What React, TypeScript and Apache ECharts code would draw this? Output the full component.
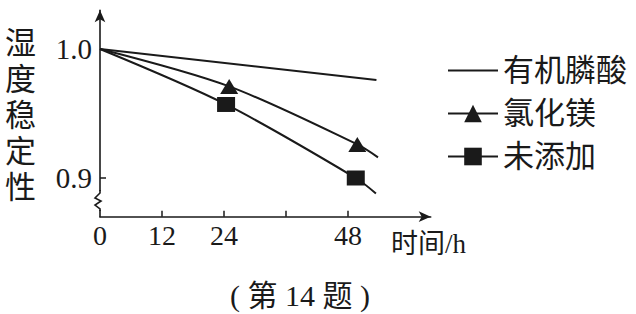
import React, { useEffect, useRef } from "react";
import * as echarts from "echarts";

// ---- data ----
const xLabelValues = [0, 12, 24, 48];
const xTickValues = [12, 24, 36, 48];
const yLabelValues = [0.9, 1.0];
const yTickValues = [0.9];

const seriesNames = ["有机膦酸", "氯化镁", "未添加"];

const phosphonicX = [0, 53.5];
const phosphonicY = [1.0, 0.976];

const mgclX = [0, 25, 49.8, 53.8];
const mgclY = [1.0, 0.971, 0.926, 0.916];
const mgclMarked = [false, true, true, false];

const noneX = [0, 24.4, 49.5, 53.4];
const noneY = [1.0, 0.957, 0.9, 0.888];
const noneMarked = [false, true, true, false];

const INK = "#1a1a1a";
const FONT = '"Liberation Serif", "Noto Sans CJK SC", serif';

function buildData(xs: number[], ys: number[], marked: boolean[], sym: string) {
  return xs.map((x, i) => ({ value: [x, ys[i]], symbol: marked[i] ? sym : "none" }));
}

export default function App() {
  const ref = useRef<HTMLDivElement>(null);
  useEffect(() => {
    if (!ref.current) return;
    const chart = echarts.init(ref.current, null, { renderer: "svg" });
    const lineStyle = { color: INK, width: 2 };
    chart.setOption({
      animation: false,
      backgroundColor: "#ffffff",
      grid: { left: 100, top: 10.3, right: 205.3, bottom: 97.3, containLabel: false, outerBoundsMode: "none" },
      xAxis: {
        type: "value",
        min: 0,
        max: 64,
        interval: 12,
        splitLine: { show: false },
        axisLine: { show: true, symbol: ["none", "arrow"], symbolSize: [8, 12], lineStyle: { color: INK, width: 1.6 } },
        axisTick: { show: true, inside: true, length: 6, customValues: xTickValues, lineStyle: { color: INK, width: 1.5 } },
        axisLabel: { customValues: xLabelValues, fontSize: 28, fontFamily: FONT, color: INK, margin: 5 },
      },
      yAxis: {
        type: "value",
        min: 0.87,
        max: 1.03,
        splitLine: { show: false },
        axisLine: { show: true, onZero: false, symbol: ["none", "arrow"], symbolSize: [8, 12], lineStyle: { color: INK, width: 1.6 } },
        axisTick: { show: true, inside: true, length: 6, customValues: yTickValues, lineStyle: { color: INK, width: 1.5 } },
        axisLabel: {
          customValues: yLabelValues,
          fontSize: 29,
          fontFamily: FONT,
          color: INK,
          margin: 8,
          formatter: (v: number) => v.toFixed(1),
        },
      },
      legend: {
        orient: "vertical",
        left: 442,
        top: 49,
        itemWidth: 50,
        itemHeight: 22,
        itemGap: 10,
        selectedMode: false,
        data: [
          { name: seriesNames[0], itemStyle: { opacity: 0 } },
          { name: seriesNames[1] },
          { name: seriesNames[2] },
        ],
        textStyle: { fontSize: 31, fontFamily: FONT, color: INK, lineHeight: 33 },
      },
      series: [
        {
          type: "line",
          name: seriesNames[0],
          data: phosphonicX.map((x, i) => [x, phosphonicY[i]]),
          symbol: "none",
          lineStyle,
          itemStyle: { color: INK },
        },
        {
          type: "line",
          name: seriesNames[1],
          data: buildData(mgclX, mgclY, mgclMarked, "triangle"),
          symbol: "triangle",
          symbolSize: [18, 15],
          smooth: 0.3,
          lineStyle,
          itemStyle: { color: INK },
        },
        {
          type: "line",
          name: seriesNames[2],
          data: buildData(noneX, noneY, noneMarked, "rect"),
          symbol: "rect",
          symbolSize: [18, 15],
          smooth: 0.3,
          lineStyle,
          itemStyle: { color: INK },
        },
      ],
      graphic: [
        {
          type: "text",
          x: 5,
          y: 25,
          z: 100,
          style: { text: "湿\n度\n稳\n定\n性", fontSize: 31, fontFamily: FONT, lineHeight: 36, fill: INK, textVerticalAlign: "top" },
        },
        {
          type: "text",
          x: 391,
          y: 244,
          z: 100,
          style: { text: "时间/h", fontSize: 27, fontFamily: FONT, fill: INK, textVerticalAlign: "middle" },
        },
        {
          type: "text",
          x: 300,
          y: 295,
          z: 100,
          style: { text: "( 第 14 题 )", fontSize: 30, fontFamily: FONT, fill: INK, textAlign: "center", textVerticalAlign: "middle" },
        },
        {
          type: "rect",
          z: 100,
          shape: { x: 94, y: 191, width: 12, height: 19 },
          style: { fill: "#ffffff" },
        },
        {
          type: "polyline",
          z: 101,
          shape: { points: [[100, 190], [100, 193], [95, 198], [101, 201], [95, 205], [100, 209], [100, 211]] },
          style: { stroke: INK, lineWidth: 1.6, fill: "none" },
        },
      ],
    });
    return () => chart.dispose();
  }, []);
  return <div ref={ref} style={{ position: "fixed", left: 0, top: 0, width: 636, height: 314 }} />;
}
